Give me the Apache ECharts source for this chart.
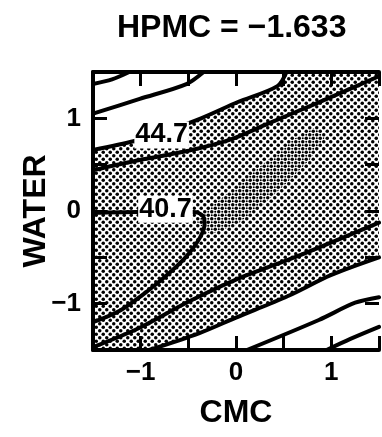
<!DOCTYPE html>
<html>
<head>
<meta charset="utf-8">
<script src="https://cdn.jsdelivr.net/npm/echarts@6/dist/echarts.min.js"></script>
<style>
  html, body { margin: 0; padding: 0; background: #fff; }
  #chart { width: 382px; height: 437px; }
</style>
</head>
<body>
<div id="chart"></div>
<script>
// Contour plot of the fitted response over CMC and WATER (coded units), HPMC held at −1.633.

const titleText = 'HPMC = −1.633';
const xName = 'CMC';
const yName = 'WATER';
const axisMin = -1.5;
const axisMax = 1.5;
const tickStep = 0.5;

// Contour lines, as [CMC, WATER] points
const contourCorner = [[-1.5, 1.37], [-1.3, 1.42], [-1.12, 1.5]];
const contourUpper = [[-1.5, 1.05], [-1.01, 1.21], [-0.52, 1.37], [-0.34, 1.5]];
const contour447 = [[-1.5, 0.66], [-1.065, 0.755], [-0.70, 0.874], [-0.36, 1.003],
  [0.02, 1.176], [0.434, 1.348], [0.53, 1.5]];
const contourRidge = [[-1.5, 0.44], [-1.01, 0.55], [-0.50, 0.65], [-0.06, 0.77],
  [0.33, 0.94], [0.85, 1.165], [1.458, 1.435], [1.5, 1.46]];
const contour407 = [[-1.5, -0.02], [-1.04, -0.01], [-0.445, -0.01], [-0.35, -0.05],
  [-0.33, -0.14], [-0.38, -0.29], [-0.52, -0.49], [-0.70, -0.67], [-0.91, -0.85],
  [-1.21, -1.07], [-1.5, -1.2]];
const contourMiddle = [[-1.5, -1.47], [-1.01, -1.26], [-0.50, -0.98], [0, -0.74],
  [0.64, -0.49], [1.5, -0.125]];
const contourLower = [[-0.91, -1.5], [-0.39, -1.32], [0, -1.15], [0.54, -0.92],
  [1.0, -0.69], [1.5, -0.5]];
const contourLow2 = [[0.114, -1.5], [0.869, -1.176], [1.25, -0.99], [1.5, -0.93]];
const contourLow3 = [[0.95, -1.5], [1.2, -1.38], [1.5, -1.25]];

// Peak zone (densest shading)
const peakZone = [[-0.41, -0.12], [-0.24, 0.065], [0.02, 0.28], [0.31, 0.53], [0.59, 0.77],
  [0.83, 0.90], [0.93, 0.79], [0.77, 0.55], [0.54, 0.31], [0.28, 0.065], [0, -0.15], [-0.27, -0.25]];

// Contour value labels
const contourLabels = [
  { text: '44.7', at: [-0.78, 0.82] },
  { text: '40.7', at: [-0.74, 0.02] }
];

// Shaded band between the 44.7 contour and the lower contour, closed along the frame
const shadedBand = [
  ...contour447,
  [axisMax, axisMax],
  ...contourLower.slice().reverse(),
  [axisMin, axisMin]
];

function dotPattern(size, dots, r) {
  const c = document.createElement('canvas');
  c.width = size; c.height = size;
  const g = c.getContext('2d');
  g.fillStyle = '#000';
  dots.forEach(([x, y]) => {
    g.beginPath();
    g.arc(x, y, r, 0, Math.PI * 2);
    g.fill();
  });
  return c;
}

const lightDots = dotPattern(7, [[1.75, 1.75], [5.25, 5.25]], 1.75);
const denseDots = dotPattern(7, [[1.75, 5.25], [5.25, 1.75]], 1.0);

function regionSeries(points, pattern, z) {
  return {
    type: 'custom',
    coordinateSystem: 'cartesian2d',
    silent: true,
    z: z,
    data: [[0, 0]],
    renderItem: (params, api) => ({
      type: 'polygon',
      shape: { points: points.map(p => api.coord(p)) },
      style: { fill: { image: pattern, repeat: 'repeat' }, stroke: null }
    })
  };
}

function contourSeries(points) {
  return {
    type: 'line',
    data: points,
    smooth: 0.3,
    symbol: 'none',
    silent: true,
    clip: true,
    z: 3,
    lineStyle: { color: '#000', width: 4, cap: 'round', join: 'round' }
  };
}

const fontFamily = '"Liberation Sans", Arial, sans-serif';

function tickText(v) {
  if (Math.abs(v - Math.round(v)) > 1e-9) return '';
  const n = Math.round(v);
  if (Math.abs(n) > 1) return '';
  return n < 0 ? '−' + Math.abs(n) : String(n);
}

const tickStyle = { inside: true, length: 14, lineStyle: { color: '#000', width: 3 } };
const frameLine = { show: true, onZero: false, lineStyle: { color: '#000', width: 4 } };
const labelStyle = { color: '#000', fontSize: 26, fontWeight: 'bold', fontFamily: fontFamily };
const nameStyle = { color: '#000', fontSize: 32, fontWeight: 'bold', fontFamily: fontFamily };

const chart = echarts.init(document.getElementById('chart'), null, { renderer: 'canvas' });

chart.setOption({
  animation: false,
  backgroundColor: '#fff',
  title: {
    text: titleText,
    left: 112,
    top: 7,
    textStyle: { color: '#000', fontSize: 32, fontWeight: 'bold', fontFamily: fontFamily }
  },
  grid: { left: 93, top: 72, right: -1, bottom: 87 },
  xAxis: [
    {
      type: 'value', position: 'bottom', min: axisMin, max: axisMax, interval: tickStep, z: 10,
      name: xName, nameLocation: 'middle', nameGap: 47, nameTextStyle: nameStyle,
      axisLine: frameLine, axisTick: tickStyle,
      axisLabel: Object.assign({ margin: 10, formatter: tickText }, labelStyle),
      splitLine: { show: false }
    },
    {
      type: 'value', position: 'top', min: axisMin, max: axisMax, interval: tickStep, z: 10,
      axisLine: frameLine, axisTick: tickStyle, axisLabel: { show: false },
      splitLine: { show: false }
    }
  ],
  yAxis: [
    {
      type: 'value', position: 'left', min: axisMin, max: axisMax, interval: tickStep, z: 10,
      name: yName, nameLocation: 'middle', nameGap: 41, nameRotate: 90, nameMoveOverlap: false,
      nameTextStyle: nameStyle,
      axisLine: frameLine, axisTick: tickStyle,
      axisLabel: Object.assign({ margin: 12, formatter: tickText }, labelStyle),
      splitLine: { show: false }
    },
    {
      type: 'value', position: 'right', min: axisMin, max: axisMax, interval: tickStep, z: 10,
      axisLine: { show: false, onZero: false }, axisTick: tickStyle, axisLabel: { show: false },
      splitLine: { show: false }
    }
  ],
  series: [
    regionSeries(shadedBand, lightDots, 1),
    regionSeries(peakZone, denseDots, 2),
    contourSeries(contourCorner),
    contourSeries(contourUpper),
    contourSeries(contour447),
    contourSeries(contourRidge),
    contourSeries(contour407),
    contourSeries(contourMiddle),
    contourSeries(contourLower),
    contourSeries(contourLow2),
    contourSeries(contourLow3),
    {
      type: 'custom',
      coordinateSystem: 'cartesian2d',
      silent: true,
      z: 5,
      data: contourLabels.map(d => d.at),
      renderItem: (params, api) => {
        const p = api.coord([api.value(0), api.value(1)]);
        return {
          type: 'text',
          x: p[0],
          y: p[1],
          style: {
            text: contourLabels[params.dataIndex].text,
            fill: '#000',
            font: 'bold 27px ' + fontFamily,
            align: 'center',
            verticalAlign: 'middle',
            backgroundColor: '#fff',
            padding: [0, 1]
          }
        };
      }
    }
  ]
});
</script>
</body>
</html>
